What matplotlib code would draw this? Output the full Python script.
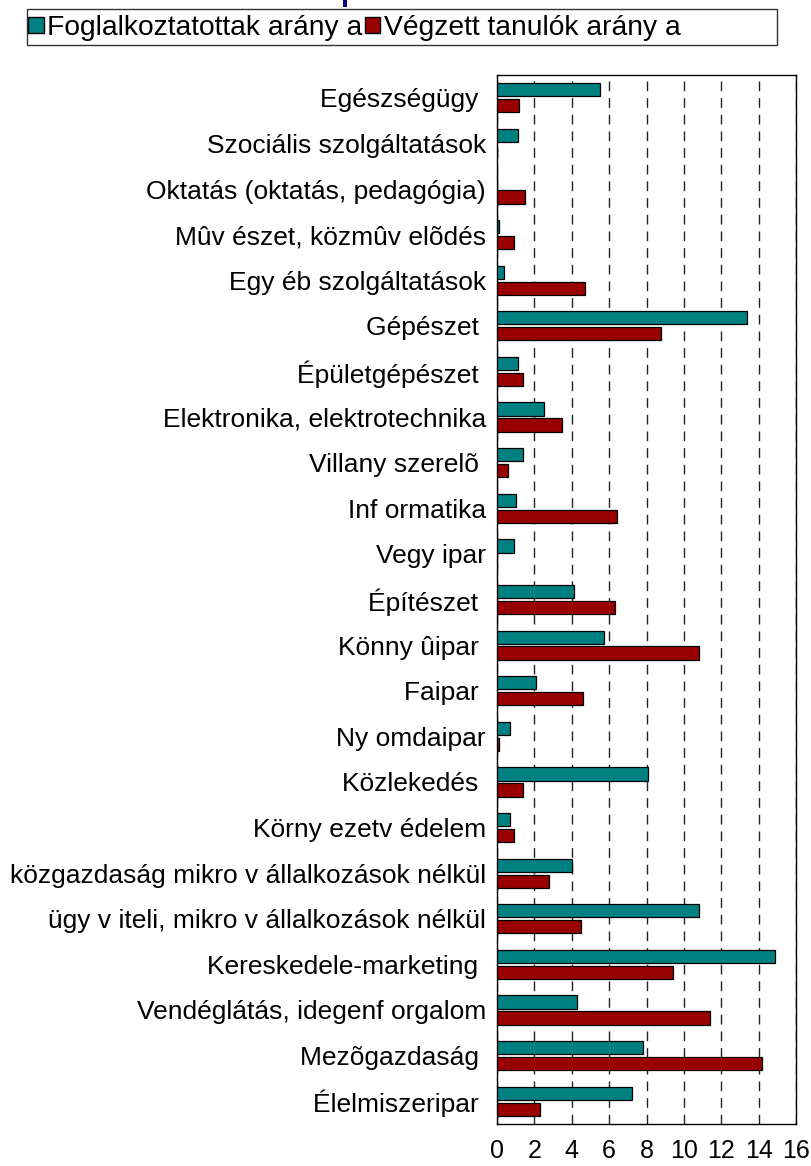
import numpy as np
import matplotlib
matplotlib.use("Agg")
import matplotlib.pyplot as plt
from matplotlib.patches import Rectangle, Patch

plt.rcParams['font.family'] = ['Liberation Sans', 'DejaVu Sans']

categories = [
    "Egészségügy ", "Szociális szolgáltatások", "Oktatás (oktatás, pedagógia)",
    "Mûv észet, közmûv elõdés", "Egy éb szolgáltatások", "Gépészet ",
    "Épületgépészet ", "Elektronika, elektrotechnika", "Villany szerelõ ",
    "Inf ormatika", "Vegy ipar", "Építészet ", "Könny ûipar ", "Faipar ",
    "Ny omdaipar", "Közlekedés ", "Körny ezetv édelem",
    "közgazdaság mikro v állalkozások nélkül",
    "ügy v iteli, mikro v állalkozások nélkül", "Kereskedele-marketing ",
    "Vendéglátás, idegenf orgalom", "Mezõgazdaság ", "Élelmiszeripar ",
]
foglalkoztatottak = [5.5, 1.1, 0.0, 0.1, 0.4, 13.4, 1.1, 2.5, 1.4, 1.0, 0.9, 4.1,
                     5.7, 2.1, 0.7, 8.1, 0.7, 4.0, 10.8, 14.9, 4.3, 7.8, 7.2]
vegzettek = [1.2, 0.0, 1.5, 0.9, 4.7, 8.8, 1.4, 3.5, 0.6, 6.4, 0.0, 6.3,
             10.8, 4.6, 0.1, 1.4, 0.9, 2.8, 4.5, 9.4, 11.4, 14.2, 2.3]
xticks = [0, 2, 4, 6, 8, 10, 12, 14, 16]
legend_labels = ["Foglalkoztatottak arány a", "Végzett tanulók arány a"]

teal = "#008080"
darkred = "#990000"

fig = plt.figure(figsize=(8.11, 11.66), dpi=100)
ax = fig.add_axes([497/811, 1 - 1124/1166, (796 - 497)/811, (1124 - 75)/1166])

y = np.arange(len(categories))
ax.barh(y - 0.175, foglalkoztatottak, height=0.29, color=teal,
        edgecolor="black", linewidth=0.9, zorder=3)
ax.barh(y + 0.175, vegzettek, height=0.29, color=darkred,
        edgecolor="black", linewidth=0.9, zorder=3)

ax.set_xlim(0, 16)
ax.set_ylim(len(categories) - 0.5, -0.5)
ax.set_xticks(xticks)
ax.set_xticklabels([str(t) for t in xticks], fontsize=18)
ax.set_yticks(y)
ax.set_yticklabels(categories, fontsize=19)
ax.tick_params(axis="y", length=0, pad=8)
ax.tick_params(axis="x", length=0, pad=11)
ax.xaxis.grid(True, color="#222222", linestyle=(0, (7, 5)), linewidth=1.0, zorder=0)
for s in ax.spines.values():
    s.set_color("black")
    s.set_linewidth(1.0)

# legend with a wide Excel-style frame
fig.patches.append(Rectangle((27/811, 1 - 45/1166), (777 - 27)/811, 36/1166,
                             transform=fig.transFigure, facecolor="white",
                             edgecolor="#333333", linewidth=1.0))
handles = [Patch(facecolor=teal, edgecolor="black"),
           Patch(facecolor=darkred, edgecolor="black")]
fig.legend(handles, legend_labels, loc="center left",
           bbox_to_anchor=(28/811, 1 - 28/1166), ncol=2, frameon=False,
           fontsize=20.3, handlelength=0.55, handleheight=0.5,
           handletextpad=0.12, columnspacing=0.1, borderpad=0, borderaxespad=0)

# bottom stroke of the cut-off title
fig.patches.append(Rectangle((343/811, 1 - 7/1166), 4/811, 7/1166,
                             transform=fig.transFigure, facecolor="#000080",
                             edgecolor="none"))

fig.savefig("out.png", dpi=100)
